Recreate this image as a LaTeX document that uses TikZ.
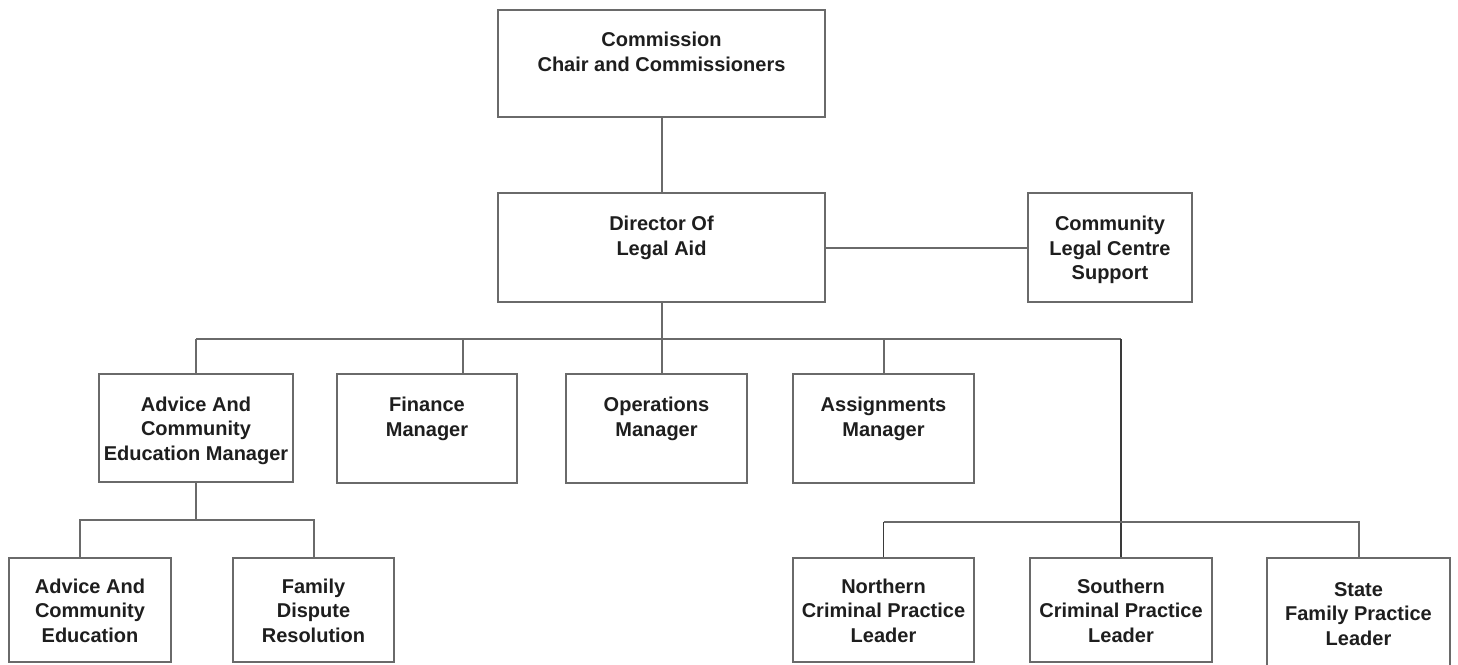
\documentclass[tikz,border=0pt]{standalone}
\usepackage{fontspec}
\setmainfont{Liberation Sans}
\definecolor{linegray}{HTML}{6A6A6A}
\definecolor{linedark}{HTML}{3A3A3A}
\definecolor{txt}{HTML}{1E1E1E}
\newcommand\tallstrut{\rule{0pt}{23pt}}
\begin{document}
\begin{tikzpicture}[x=1pt,y=-1pt,
  orgbox/.style={draw=linegray, line width=2pt, fill=white, inner sep=0pt,
    align=center, text=txt, font=\fontsize{20}{24.5}\selectfont\bfseries},
  conn/.style={draw=linegray, line width=2pt},
  conndark/.style={draw=linedark, line width=1.5pt}]
\useasboundingbox (0,0) rectangle (1458,664);

% boxes
\node[orgbox, minimum width=327pt, minimum height=107pt] (comm) at (661.5,63.5) {\tallstrut Commission\\Chair and Commissioners\\\strut};
\node[orgbox, minimum width=327pt, minimum height=109pt] (dir) at (661.5,247.5) {\tallstrut Director Of\\Legal Aid\\\strut};
\node[orgbox, minimum width=164pt, minimum height=109pt] (clcs) at (1110,247.5) {\tallstrut Community\\Legal Centre\\Support\strut};
\node[orgbox, minimum width=194pt, minimum height=108pt] (advm) at (196,428) {\tallstrut Advice And\\Community\\Education Manager\strut};
\node[orgbox, minimum width=180pt, minimum height=109pt] (fin) at (427,428.5) {\tallstrut Finance\\Manager\\\strut};
\node[orgbox, minimum width=181pt, minimum height=109pt] (ops) at (656.5,428.5) {\tallstrut Operations\\Manager\\\strut};
\node[orgbox, minimum width=181pt, minimum height=109pt] (asg) at (883.5,428.5) {\tallstrut Assignments\\Manager\\\strut};
\node[orgbox, minimum width=162pt, minimum height=104pt] (ace) at (90,610) {\tallstrut Advice And\\Community\\Education\strut};
\node[orgbox, minimum width=161pt, minimum height=104pt] (fdr) at (313.5,610) {\tallstrut Family\\Dispute\\Resolution\strut};
\node[orgbox, minimum width=181pt, minimum height=104pt] (nor) at (883.5,610) {\tallstrut Northern\\Criminal Practice\\Leader\strut};
\node[orgbox, minimum width=182pt, minimum height=104pt] (sou) at (1121,610) {\tallstrut Southern\\Criminal Practice\\Leader\strut};
\node[orgbox, minimum width=183pt, minimum height=110pt] (sta) at (1358.5,613) {\tallstrut State\\Family Practice\\Leader\strut};

% bus coordinates
\coordinate (b1) at (196,339);
\coordinate (b2) at (1121,339);
\coordinate (lowbus) at (0,522);
\coordinate (sub) at (0,520);

% connectors
\draw[conn] (comm.south) -- (dir.north);
\draw[conn] (dir.east) -- (clcs.west);
\draw[conn] (dir.south) -- (dir.south |- ops.north);
\draw[conn] (b1) -- (b2);
\draw[conn] (b1) -- (advm.north);
\draw[conn] ([xshift=36pt]fin.north) -- ([xshift=36pt]fin.north |- b1);
\draw[conn] (asg.north) -- (asg.north |- b1);
\draw[conndark] (b2) -- (sou.north);
\draw[conn] (nor.north |- lowbus) -- (sta.north |- lowbus) -- (sta.north);
\draw[conndark] (nor.north) -- (nor.north |- lowbus);
\draw[conn] (advm.south) -- (advm.south |- sub);
\draw[conn] ([xshift=-10pt]ace.north) -- ([xshift=-10pt]ace.north |- sub) -- (fdr.north |- sub) -- (fdr.north);
\end{tikzpicture}
\end{document}
